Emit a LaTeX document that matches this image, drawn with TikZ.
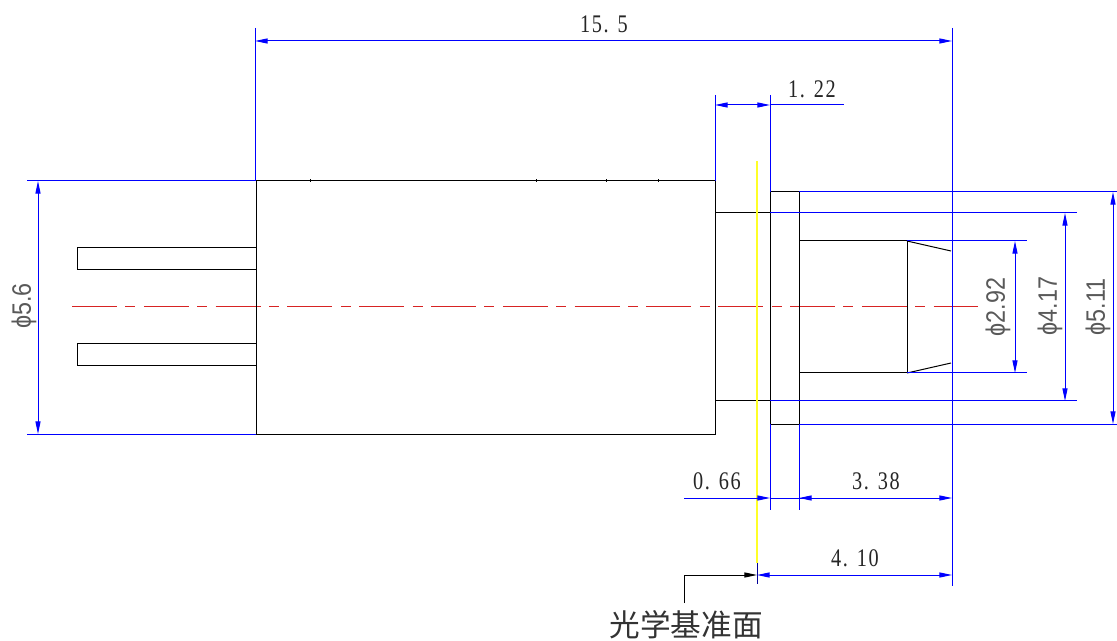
\documentclass[tikz,border=0pt]{standalone}
\usepackage{fontspec}
\setmainfont{Liberation Serif}
\setsansfont{Liberation Sans}
\newfontfamily\cjkfont{Noto Sans CJK SC}
\newfontfamily\numfont{Liberation Serif}[LetterSpace=8]
\usetikzlibrary{arrows.meta}
\definecolor{dimblue}{RGB}{0,0,255}
\definecolor{axisred}{RGB}{215,35,35}
\definecolor{datumyellow}{RGB}{255,255,40}
\tikzset{
  part/.style={black,line width=0.75pt},
  dimline/.style={dimblue,line width=0.75pt},
  dimarrow/.style={dimblue,line width=0.75pt,{Stealth[length=9.5pt,width=3.8pt,inset=0pt]}-{Stealth[length=9.5pt,width=3.8pt,inset=0pt]}},
  dimright/.style={dimblue,line width=0.75pt,-{Stealth[length=9.5pt,width=3.8pt,inset=0pt]}},
  numlabel/.style={inner sep=0pt,font=\numfont\fontsize{19}{21}\selectfont,xscale=0.8,text=black!85},
  philabel/.style={inner sep=0pt,font=\sffamily\fontsize{20}{22}\selectfont,rotate=90,xscale=0.875,text=black!65},
}
\begin{document}
\begin{tikzpicture}[x=0.75pt,y=-0.75pt]
\useasboundingbox (0,0) rectangle (1117,641);
\begin{scope}[xshift=-0.75pt]
% centre line
\draw[axisred,line width=0.75pt,dash pattern=on 33.75pt off 6.3pt on 7.5pt off 6.3pt] (73,307) -- (979,307);
% body
\draw[part] (257,181) -- (716,181) -- (716,434) -- (257,434);
\draw[part] (257,181) -- (257,434);
\foreach \tx in {311,537,607,659} \draw[part] (\tx,179.5) -- (\tx,182);
\draw[part] (78,248) rectangle (257,270);
\draw[part] (78,344) rectangle (257,366);
\draw[part] (716,213) -- (771,213);
\draw[part] (716,401) -- (771,401);
\draw[part] (771,192) rectangle (800,424);
\draw[part] (800,241) -- (908,241);
\draw[part] (800,373) -- (908,373);
\draw[part] (908,241) -- (908,373);
\draw[part] (908,241) -- (952,251);
\draw[part] (908,373) -- (952,363);
% extension lines
\draw[dimline] (28,181) -- (256,181);
\draw[dimline] (28,434) -- (257,434);
\draw[dimline] (256,28) -- (256,181);
\draw[dimline] (953,28) -- (953,586);
\draw[dimline] (716,95) -- (716,181);
\draw[dimline] (771,95) -- (771,192);
\draw[dimline] (771,424) -- (771,510);
\draw[dimline] (800,424) -- (800,510);
\draw[dimline] (800,192) -- (1118,192);
\draw[dimline] (800,424) -- (1118,424);
\draw[dimline] (771,213) -- (1078,213);
\draw[dimline] (771,401) -- (1078,401);
\draw[dimline] (908,241) -- (1028,241);
\draw[dimline] (908,373) -- (1028,373);
% datum plane
\draw[datumyellow,line width=1.1pt] (758,161) -- (758,563);
\draw[dimblue!60!black,line width=0.75pt] (758,563) -- (758,584);
% dimensions
\draw[dimarrow] (256,41) -- (953,41);
\draw[dimarrow] (716,105) -- (771,105);
\draw[dimline] (771,105) -- (845,105);
\draw[dimright] (685,498) -- (771,498);
\draw[dimline] (771,498) -- (824,498);
\draw[dimarrow] (800,498) -- (953,498);
\draw[dimarrow] (758,575) -- (953,575);
\draw[dimarrow] (39,181) -- (39,434);
\draw[dimarrow] (1016,241) -- (1016,373);
\draw[dimarrow] (1066,213) -- (1066,401);
\draw[dimarrow] (1114,192) -- (1114,424);
% datum leader
\draw[black,line width=0.75pt,-{Stealth[length=9.5pt,width=3.8pt,inset=0pt]}] (685,603) -- (685,575) -- (758,575);
% labels
\node[numlabel] (d155) at (605,24) {15. 5};
\node[numlabel] (d122) at (813,89) {1. 22};
\node[numlabel] (d066) at (718,481) {0. 66};
\node[numlabel] (d338) at (877,481) {3. 38};
\node[numlabel] (d410) at (856,558) {4. 10};
\node[philabel] (p56) at (25,306) {ϕ5.6};
\node[philabel] (p292) at (999,307) {ϕ2.92};
\node[philabel] (p417) at (1051,306) {ϕ4.17};
\node[philabel] (p511) at (1099,307) {ϕ5.11};
\node[inner sep=0pt,font=\cjkfont\fontsize{23}{26}\selectfont,text=black!80] (datum) at (687,625) {光学基准面};
\end{scope}
\end{tikzpicture}
\end{document}
